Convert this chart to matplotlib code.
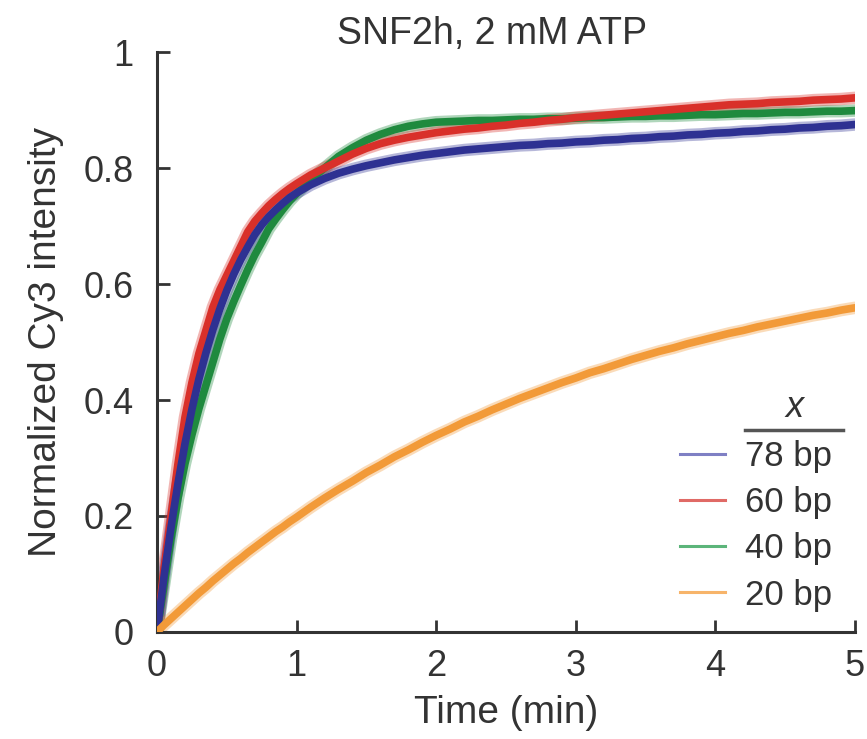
import matplotlib
matplotlib.use("Agg")
import matplotlib.pyplot as plt
from matplotlib.lines import Line2D

plt.rcParams['font.family'] = ['Liberation Sans', 'DejaVu Sans']

# time points (min): fine steps during the fast rise, then 0.1 min
time_min = [0.0, 0.05, 0.1, 0.15, 0.2, 0.25, 0.3, 0.35, 0.4, 0.45, 0.5,
            0.55, 0.6, 0.65, 0.7, 0.75, 0.8, 0.85, 0.9, 0.95, 1.0,
            1.1, 1.2, 1.3, 1.4, 1.5, 1.6, 1.7, 1.8, 1.9, 2.0,
            2.1, 2.2, 2.3, 2.4, 2.5, 2.6, 2.7, 2.8, 2.9, 3.0,
            3.1, 3.2, 3.3, 3.4, 3.5, 3.6, 3.7, 3.8, 3.9, 4.0,
            4.1, 4.2, 4.3, 4.4, 4.5, 4.6, 4.7, 4.8, 4.9, 5.0]

# normalized Cy3 intensity
bp78 = [0.0, 0.095, 0.180, 0.256, 0.324, 0.384, 0.436, 0.481, 0.521, 0.557, 0.589,
        0.617, 0.642, 0.664, 0.685, 0.702, 0.716, 0.728, 0.739, 0.749, 0.757,
        0.771, 0.782, 0.791, 0.798, 0.804, 0.809, 0.814, 0.818, 0.822, 0.825,
        0.828, 0.831, 0.833, 0.835, 0.837, 0.839, 0.840, 0.842, 0.843, 0.845,
        0.846, 0.848, 0.849, 0.851, 0.852, 0.854, 0.855, 0.857, 0.858, 0.860,
        0.861, 0.863, 0.864, 0.866, 0.867, 0.869, 0.870, 0.872, 0.873, 0.875]
bp60 = [0.0, 0.110, 0.200, 0.290, 0.370, 0.430, 0.480, 0.520, 0.560, 0.590, 0.615,
        0.640, 0.665, 0.690, 0.708, 0.722, 0.735, 0.746, 0.756, 0.765, 0.773,
        0.788, 0.800, 0.812, 0.824, 0.834, 0.842, 0.848, 0.853, 0.857, 0.861,
        0.864, 0.867, 0.869, 0.872, 0.874, 0.877, 0.879, 0.882, 0.884, 0.887,
        0.889, 0.891, 0.893, 0.895, 0.897, 0.899, 0.901, 0.903, 0.905, 0.907,
        0.909, 0.910, 0.911, 0.913, 0.914, 0.915, 0.917, 0.918, 0.919, 0.921]
bp40 = [0.0, 0.080, 0.160, 0.230, 0.290, 0.340, 0.385, 0.425, 0.465, 0.505, 0.540,
        0.570, 0.598, 0.625, 0.650, 0.672, 0.695, 0.712, 0.728, 0.743, 0.756,
        0.780, 0.800, 0.820, 0.835, 0.848, 0.858, 0.866, 0.872, 0.876, 0.879,
        0.880, 0.881, 0.882, 0.882, 0.883, 0.884, 0.884, 0.885, 0.885, 0.886,
        0.887, 0.887, 0.888, 0.889, 0.889, 0.890, 0.890, 0.891, 0.892, 0.892,
        0.893, 0.894, 0.894, 0.895, 0.896, 0.896, 0.897, 0.898, 0.898, 0.899]
bp20 = [0.0, 0.012, 0.023, 0.034, 0.045, 0.056, 0.067, 0.077, 0.088, 0.098, 0.108,
        0.118, 0.127, 0.137, 0.146, 0.155, 0.164, 0.173, 0.181, 0.190, 0.198,
        0.215, 0.231, 0.246, 0.260, 0.275, 0.288, 0.302, 0.314, 0.327, 0.339,
        0.350, 0.362, 0.372, 0.383, 0.393, 0.403, 0.412, 0.421, 0.430, 0.438,
        0.447, 0.454, 0.462, 0.470, 0.477, 0.484, 0.490, 0.497, 0.503, 0.509,
        0.515, 0.520, 0.526, 0.531, 0.536, 0.541, 0.546, 0.550, 0.555, 0.559]

labels = ['78 bp', '60 bp', '40 bp', '20 bp']
colors = ['#2e3192', '#d9302a', '#1f8a3e', '#f29a38']
legend_colors = ['#7f80c4', '#e06a66', '#5cb57a', '#f7b46a']
text_color = '#333333'

fig = plt.figure(figsize=(8.67, 7.39), dpi=100)
ax = fig.add_axes([0.1811, 0.1448, 0.8051, 0.7848])

# draw the dense point clouds as bands (green under red under blue)
series = [bp78, bp60, bp40, bp20]
for idx in [2, 1, 0, 3]:
    ax.plot(time_min, series[idx], color=colors[idx], lw=9, alpha=0.35,
            solid_capstyle='round', zorder=2)
    ax.plot(time_min, series[idx], color=colors[idx], lw=5.5,
            solid_capstyle='round', zorder=3)

ax.set_xlim(0, 5)
ax.set_ylim(0, 1)
ax.set_xticks([0, 1, 2, 3, 4, 5])
ax.set_yticks([0, 0.2, 0.4, 0.6, 0.8, 1])
ax.set_yticklabels(['0', '0.2', '0.4', '0.6', '0.8', '1'])
ax.tick_params(direction='in', length=9, width=2, colors=text_color,
               labelsize=26, labelcolor=text_color)
ax.tick_params(axis='y', pad=17)
ax.tick_params(axis='x', pad=12)
for side in ['top', 'right']:
    ax.spines[side].set_visible(False)
for side in ['left', 'bottom']:
    ax.spines[side].set_linewidth(2.2)
    ax.spines[side].set_color(text_color)

ax.set_xlabel('Time (min)', fontsize=28, color=text_color, labelpad=8)
ax.set_ylabel('Normalized Cy3 intensity', fontsize=28, color=text_color, labelpad=14)
ax.set_title('SNF2h, 2 mM ATP', fontsize=27, color=text_color, x=0.48, pad=4)

# legend, title drawn separately with an underline
handles = [Line2D([], [], color=c, lw=2.2) for c in legend_colors]
leg = ax.legend(handles, labels, loc='upper left', bbox_to_anchor=(0.749, 0.331),
                frameon=False, fontsize=25, handlelength=1.3, handletextpad=0.58,
                labelspacing=0.38, borderpad=0, borderaxespad=0)
for t in leg.get_texts():
    t.set_color(text_color)

fig.canvas.draw()
txts = [t.get_window_extent() for t in leg.get_texts()]
x0 = min(b.x0 for b in txts)
x1 = max(b.x1 for b in txts) + 11
yline = txts[0].y1 + 10
inv = fig.transFigure.inverted()
(fx0, fy), (fx1, _) = inv.transform([(x0, yline), (x1, yline)])
fig.add_artist(Line2D([fx0, fx1], [fy, fy], color='#555555', lw=2.5,
                      transform=fig.transFigure))
fy_title = inv.transform([(0, yline + 5)])[0][1]
fig.text((fx0 + fx1) / 2, fy_title, 'x', fontsize=26, style='italic',
         color=text_color, ha='center', va='bottom')

fig.savefig('out.png', dpi=100)
